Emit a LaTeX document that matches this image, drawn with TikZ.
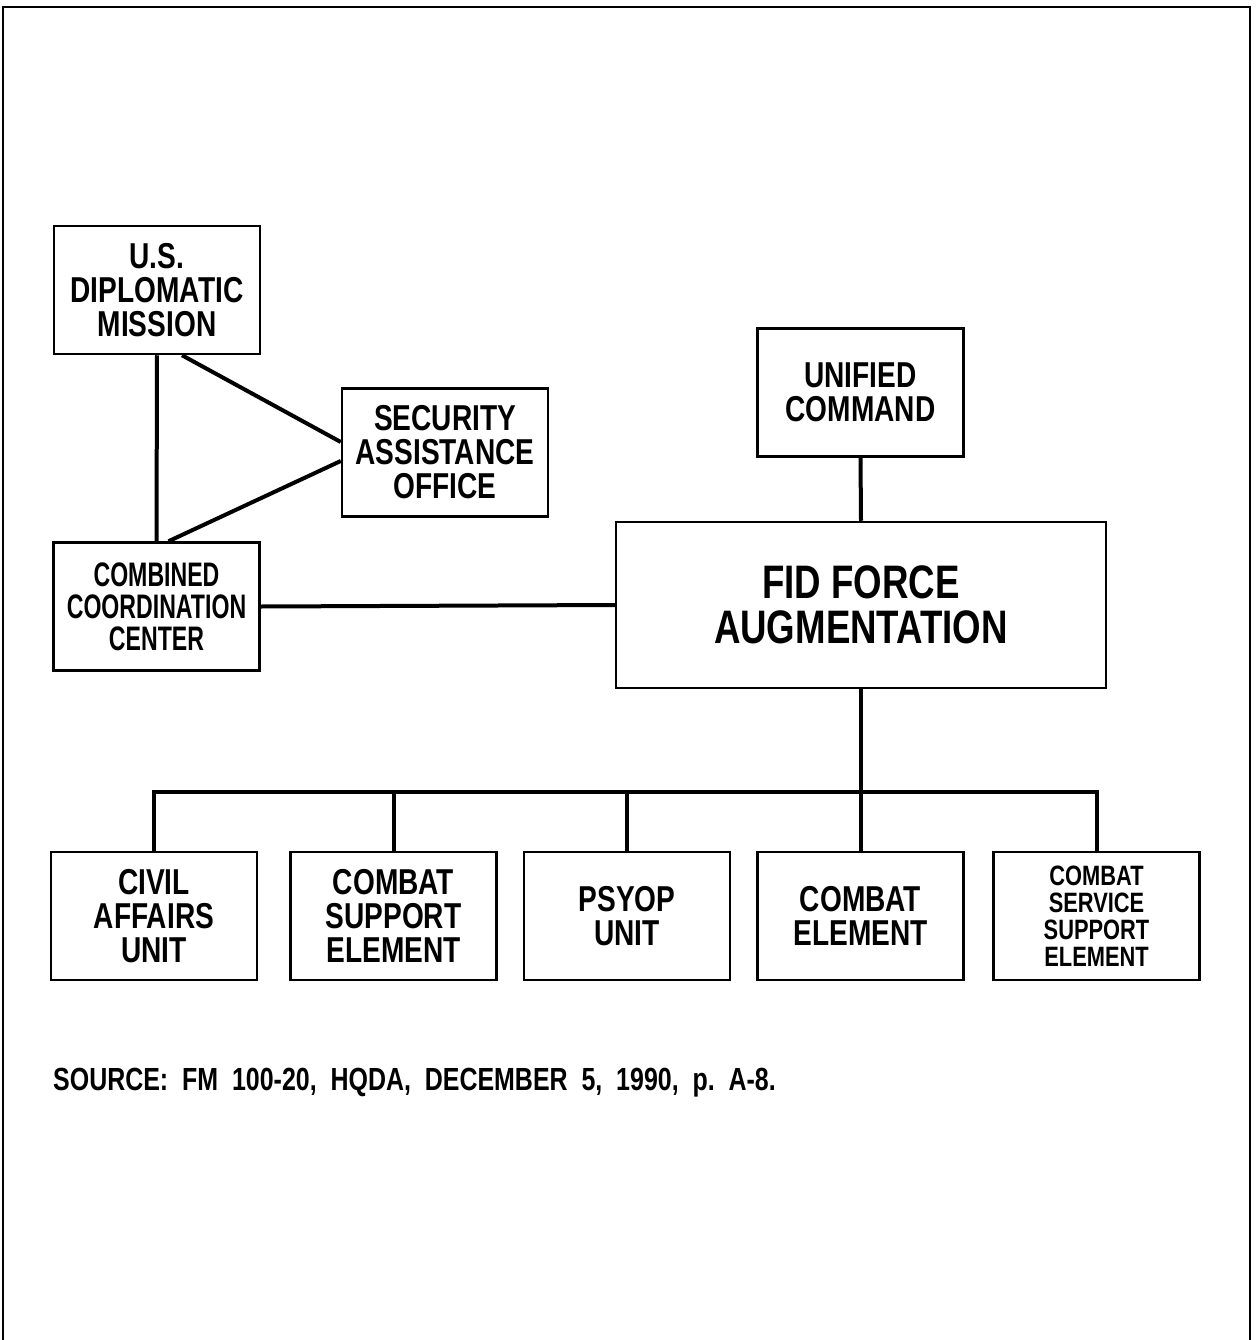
\documentclass[tikz,border=0pt]{standalone}
\usepackage{fontspec}
\setmainfont{Liberation Sans}[FakeStretch=0.78]
\newfontfamily\narrowfont{Liberation Sans}[FakeStretch=0.68]
\begin{document}
\begin{tikzpicture}[x=1pt,y=-1pt,
  box/.style={draw, line width=2.5pt, inner sep=0pt, align=center,
    font=\fontsize{36}{34}\selectfont\bfseries},
  small/.style={box, minimum width=206pt, minimum height=128pt},
  link/.style={line width=4pt}]
\useasboundingbox (0,0) rectangle (1255,1340);
% frame (open at bottom)
\draw[line width=2.5pt] (3,1340) -- (3,7) -- (1250,7) -- (1250,1340);

\node[small] (usdm) at (157,290) {U.S.\\DIPLOMATIC\\MISSION};
\node[small] (sao) at (445,452.5) {SECURITY\\ASSISTANCE\\OFFICE};
\node[small, font=\fontsize{34}{32}\narrowfont\bfseries] (ccc) at (156.5,606.5) {COMBINED\\COORDINATION\\CENTER};
\node[small] (uc) at (860.5,392.5) {UNIFIED\\COMMAND};
\node[box, minimum width=490pt, minimum height=166pt,
  font=\fontsize{47}{45}\selectfont\bfseries] (fid) at (861,605) {FID FORCE\\AUGMENTATION};

\node[small] (cau) at (154,916) {CIVIL\\AFFAIRS\\UNIT};
\node[small] (cse) at (393.5,916) {COMBAT\\SUPPORT\\ELEMENT};
\node[small] (psy) at (627,916) {PSYOP\\UNIT};
\node[small] (ce) at (860.5,916) {COMBAT\\ELEMENT};
\node[small, font=\fontsize{28}{27}\selectfont\bfseries] (csse) at (1096.5,916) {COMBAT\\SERVICE\\SUPPORT\\ELEMENT};

% connectors
\draw[link] (usdm.south) -- (ccc.north);
\draw[link] (usdm.south) ++(25,0) coordinate (a1) -- (sao.west |- 0,442);
\draw[link] (sao.west |- 0,461) -- ([xshift=12pt]ccc.north);
\draw[link] (ccc.east) -- (fid.west);
\draw[link] (uc.south) -- (fid.north);
\coordinate (bus) at (861,792);
\draw[link] (fid.south) -- (bus);
\draw[link] (cau.north) -- (cau.north |- bus) -- (csse.north |- bus) -- (csse.north);
\draw[link] (cse.north) -- (cse.north |- bus);
\draw[link] (psy.north) -- (psy.north |- bus);
\draw[link] (ce.north) -- (ce.north |- bus);

\node[anchor=base west, inner sep=0pt, font=\fontsize{32}{34}\selectfont\bfseries] (src) at (53,1090)
  {SOURCE:\ \ FM\ \ 100-20,\ \ HQDA,\ \ DECEMBER\ \ 5,\ \ 1990,\ \ p.\ \ A-8.};
\end{tikzpicture}
\end{document}
